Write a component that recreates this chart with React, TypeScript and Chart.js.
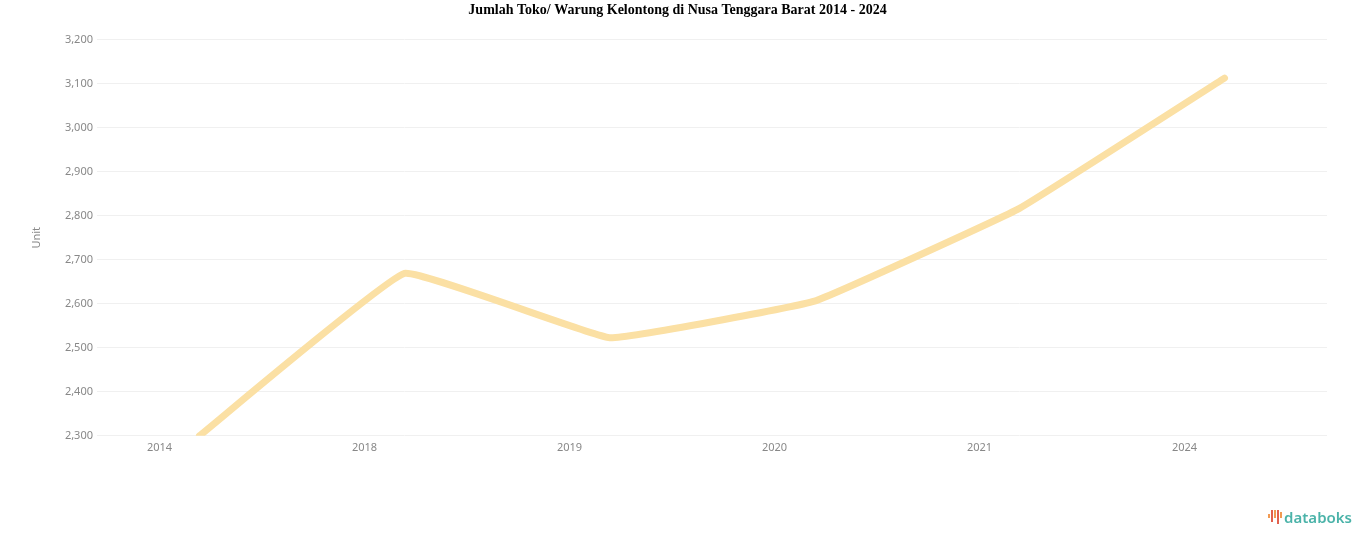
import React, { useEffect, useRef } from "react";
import { Chart, registerables } from "chart.js";

Chart.register(...registerables);

const TITLE = "Jumlah Toko/ Warung Kelontong di Nusa Tenggara Barat 2014 - 2024";
const Y_TITLE = "Unit";
const YEARS = ["2014", "2018", "2019", "2020", "2021", "2024"];
const STORES = [2300, 2669, 2523, 2606, 2817, 3113];
const Y_MIN = 2300;
const Y_MAX = 3200;
const Y_STEP = 100;

export default function App() {
  const ref = useRef<HTMLCanvasElement | null>(null);

  useEffect(() => {
    if (!ref.current) return;
    const chart = new Chart(ref.current, {
      type: "line",
      data: {
        labels: YEARS,
        datasets: [
          {
            label: Y_TITLE,
            data: STORES,
            borderColor: "#fbe0a4",
            backgroundColor: "#fbe0a4",
            borderWidth: 7,
            pointRadius: 0,
            tension: 0.08,
            borderCapStyle: "round",
            borderJoinStyle: "round",
            fill: false,
          },
        ],
      },
      options: {
        animation: false,
        responsive: true,
        maintainAspectRatio: false,
        layout: { padding: { left: 28, right: 39, top: 0, bottom: 88 } },
        plugins: {
          legend: { display: false },
          tooltip: { enabled: false },
          title: {
            display: true,
            text: TITLE,
            color: "#000",
            font: { family: "'Liberation Serif', 'Times New Roman', serif", size: 14, weight: "bold" },
            padding: { top: 2, bottom: 21 },
          },
        },
        scales: {
          x: {
            offset: true,
            grid: { display: false, drawTicks: false },
            border: { display: false },
            ticks: {
              color: "#888",
              font: { family: "'Noto Sans', sans-serif", size: 11 },
              labelOffset: -40,
              padding: 5,
            },
          },
          y: {
            min: Y_MIN,
            max: Y_MAX,
            title: {
              display: true,
              text: Y_TITLE,
              color: "#888",
              font: { family: "'Noto Sans', sans-serif", size: 11 },
              padding: { top: 2, bottom: 0 },
            },
            grid: { color: "#f0f0f0", lineWidth: 1, drawTicks: false },
            border: { display: false },
            ticks: {
              stepSize: Y_STEP,
              color: "#888",
              font: { family: "'Noto Sans', sans-serif", size: 11 },
              padding: 4,
              callback: (v: any) => Number(v).toLocaleString("en-US"),
            },
            afterFit: (axis: any) => {
              axis.width = 69;
            },
          },
        },
      },
    });
    return () => chart.destroy();
  }, []);

  return (
    <div style={{ position: "absolute", left: 0, top: 0, width: 1366, height: 547, background: "#fff" }}>
      <canvas ref={ref} />
      <div
        style={{
          position: "absolute",
          right: 14,
          bottom: 20,
          display: "flex",
          alignItems: "center",
          fontFamily: "'Noto Sans', 'Open Sans', sans-serif",
          fontWeight: 600,
          fontSize: 15,
          color: "#4bb3a9",
        }}
      >
        <span style={{ display: "inline-flex", alignItems: "flex-start", marginRight: 2, height: 14 }}>
          <span style={{ width: 2, height: 4, background: "#f29a52", marginRight: 1, marginTop: 4 }} />
          <span style={{ width: 2, height: 12, background: "#e2614d", marginRight: 1 }} />
          <span style={{ width: 2, height: 8, background: "#f29a52", marginRight: 1 }} />
          <span style={{ width: 2, height: 14, background: "#e2614d", marginRight: 1 }} />
          <span style={{ width: 2, height: 6, background: "#f29a52", marginTop: 2 }} />
        </span>
        <span>databoks</span>
      </div>
    </div>
  );
}
